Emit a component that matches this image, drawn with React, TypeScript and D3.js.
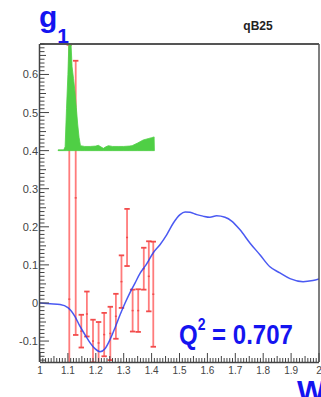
import React from 'react';
import * as d3 from 'd3';

// ---- data ----
const xTickValues = [1, 1.1, 1.2, 1.3, 1.4, 1.5, 1.6, 1.7, 1.8, 1.9, 2];
const xTickLabels = ['1', '1.1', '1.2', '1.3', '1.4', '1.5', '1.6', '1.7', '1.8', '1.9', '2'];
const yTickValues = [-0.1, 0, 0.1, 0.2, 0.3, 0.4, 0.5, 0.6];
const yTickLabels = ['-0.1', '0', '0.1', '0.2', '0.3', '0.4', '0.5', '0.6'];

// data points with errors
const errW = [1.105, 1.128, 1.148, 1.168, 1.19, 1.21, 1.23, 1.252, 1.272, 1.292, 1.312, 1.332, 1.352, 1.372, 1.39, 1.406];
const errV = [0.01, 0.276, -0.074, -0.029, -0.1, -0.105, -0.083, -0.08, -0.035, 0.056, 0.172, -0.02, -0.02, 0.09, 0.07, 0.023];
const errE = [0.668, 0.36, 0.043, 0.059, 0.056, 0.055, 0.057, 0.07, 0.059, 0.069, 0.075, 0.055, 0.056, 0.055, 0.092, 0.138];

// model curve
const curveW = [1.0, 1.036, 1.072, 1.1, 1.125, 1.143, 1.161, 1.179, 1.197, 1.215, 1.233, 1.251, 1.269, 1.287, 1.305, 1.323, 1.341, 1.358, 1.38, 1.406, 1.43, 1.454, 1.478, 1.502, 1.52, 1.538, 1.562, 1.584, 1.609, 1.633, 1.663, 1.687, 1.717, 1.753, 1.789, 1.824, 1.86, 1.896, 1.943, 1.978, 2.0];
const curveV = [0, -0.002, -0.004, -0.012, -0.035, -0.061, -0.083, -0.104, -0.12, -0.128, -0.12, -0.096, -0.065, -0.031, 0.0, 0.028, 0.053, 0.077, 0.1, 0.132, 0.153, 0.179, 0.21, 0.232, 0.239, 0.238, 0.232, 0.228, 0.225, 0.229, 0.225, 0.215, 0.192, 0.157, 0.126, 0.095, 0.079, 0.064, 0.056, 0.059, 0.063];

// inset histogram (offset baseline 0.4)
const histBase = 0.4;
const histW = [1.065, 1.075, 1.085, 1.09, 1.095, 1.1, 1.105, 1.11, 1.115, 1.12, 1.125, 1.13, 1.135, 1.14, 1.145, 1.16, 1.18, 1.2, 1.209, 1.218, 1.227, 1.236, 1.245, 1.26, 1.28, 1.3, 1.32, 1.33, 1.35, 1.37, 1.38, 1.39, 1.4, 1.409, 1.41];
const histH = [0.002, 0.002, 0.002, 0.01, 0.11, 0.2, 0.32, 0.3, 0.22, 0.19, 0.157, 0.114, 0.07, 0.035, 0.013, 0.011, 0.011, 0.012, 0.014, 0.01, 0.006, 0.01, 0.013, 0.011, 0.011, 0.011, 0.012, 0.013, 0.02, 0.028, 0.03, 0.032, 0.034, 0.036, 0];

const FONT = "'Liberation Sans', Arial, Helvetica, sans-serif";

export default function App() {
  const left = 40, right = 319, top = 44, bottom = 362;
  const x = d3.scaleLinear().domain([1, 2]).range([left, right]);
  const y = d3.scaleLinear().domain([-0.155, 0.68]).range([bottom, top]);

  const line = d3.line<number>().x((_, i) => x(curveW[i])).y((d) => y(d)).curve(d3.curveMonotoneX);
  const area = d3.area<number>()
    .x((_, i) => x(histW[i]))
    .y0(() => y(histBase))
    .y1((d) => y(histBase + d));

  const xMinor = d3.range(0, 101).map((i) => 1 + i * 0.01);
  const yMinor = d3.range(-15, 69).map((i) => i * 0.01);

  const axisCol = '#444';
  const errCol = '#ff5c5c';

  return (
    <svg width={321} height={397} style={{ position: 'absolute', left: 0, top: 0, background: '#fff' }}>
      <defs>
        <clipPath id="frame">
          <rect x={left} y={top} width={right - left} height={bottom - top} />
        </clipPath>
      </defs>
      <rect x={0} y={0} width={321} height={397} fill="#fff" />

      <g clipPath="url(#frame)">
        {/* error bars */}
        {errW.map((w, i) => {
          const cx = x(w);
          const hi = y(errV[i] + errE[i]);
          const lo = y(errV[i] - errE[i]);
          return (
            <g key={i} stroke={errCol} strokeWidth={1.8} opacity={0.8}>
              <line x1={cx} x2={cx} y1={hi} y2={lo} />
              <line x1={cx - 2.7} x2={cx + 2.7} y1={hi} y2={hi} strokeWidth={1.8} stroke="#f02020" />
              <line x1={cx - 2.7} x2={cx + 2.7} y1={lo} y2={lo} strokeWidth={1.8} stroke="#f02020" />
              <line x1={cx - 1} x2={cx + 1} y1={y(errV[i])} y2={y(errV[i])} strokeWidth={1.5} stroke="#f02020" />
            </g>
          );
        })}
        {/* model curve */}
        <path d={line(curveV) || ''} fill="none" stroke="#2a3cf0" strokeWidth={1.5} opacity={0.85} />
        {/* inset histogram */}
        <path d={area(histH) || ''} fill="#4fcf45" stroke="#4fcf45" strokeWidth={0.8} />
      </g>

      {/* frame */}
      <line x1={left} x2={right} y1={top} y2={top} stroke="#555" strokeWidth={2} />
      <line x1={right} x2={right} y1={top} y2={bottom} stroke="#555" strokeWidth={1.5} />
      <line x1={left - 0.5} x2={left - 0.5} y1={top} y2={bottom} stroke={axisCol} strokeWidth={1.5} />
      <line x1={left} x2={right} y1={bottom + 0.5} y2={bottom + 0.5} stroke={axisCol} strokeWidth={1.5} />

      {/* x ticks */}
      {xMinor.map((v, i) => {
        const len = i % 10 === 0 ? 9 : i % 5 === 0 ? 6 : 4;
        return <line key={'xm' + i} x1={x(v)} x2={x(v)} y1={bottom} y2={bottom - len} stroke={axisCol} strokeWidth={1} />;
      })}
      {xTickValues.map((v, i) => (
        <text key={'xl' + i} x={x(v)} y={373.5} textAnchor="middle" fontFamily={FONT} fontSize={10} fill="#444">
          {xTickLabels[i]}
        </text>
      ))}

      {/* y ticks */}
      {yMinor.map((v, i) => {
        const k = Math.round(v * 100);
        const len = k % 10 === 0 ? 9 : k % 5 === 0 ? 6 : 4.5;
        return <line key={'ym' + i} x1={left} x2={left + len} y1={y(v)} y2={y(v)} stroke={axisCol} strokeWidth={1} />;
      })}
      {yTickValues.map((v, i) => (
        <text key={'yl' + i} x={38} y={y(v) + 4} textAnchor="end" fontFamily={FONT} fontSize={11} fill="#444">
          {yTickLabels[i]}
        </text>
      ))}

      {/* titles */}
      <text x={39} y={26.5} fontFamily={FONT} fontWeight="bold" fontSize={30} fill="#1414f0">
        g<tspan fontSize={21} dy={16.5}>1</tspan>
      </text>
      <text x={258} y={30} textAnchor="middle" fontFamily={FONT} fontWeight="bold" fontSize={12} fill="#222">qB25</text>
      <g transform="translate(179,344) scale(1,1.17)">
        <text x={0} y={0} fontFamily={FONT} fontWeight="bold" fontSize={24} fill="#1414f0">
          Q<tspan fontSize={14} dy={-12}>2</tspan><tspan dy={12}> = 0.707</tspan>
        </text>
      </g>
      <text x={297} y={401} fontFamily={FONT} fontWeight="bold" fontSize={30} fill="#1414f0">W</text>
    </svg>
  );
}
